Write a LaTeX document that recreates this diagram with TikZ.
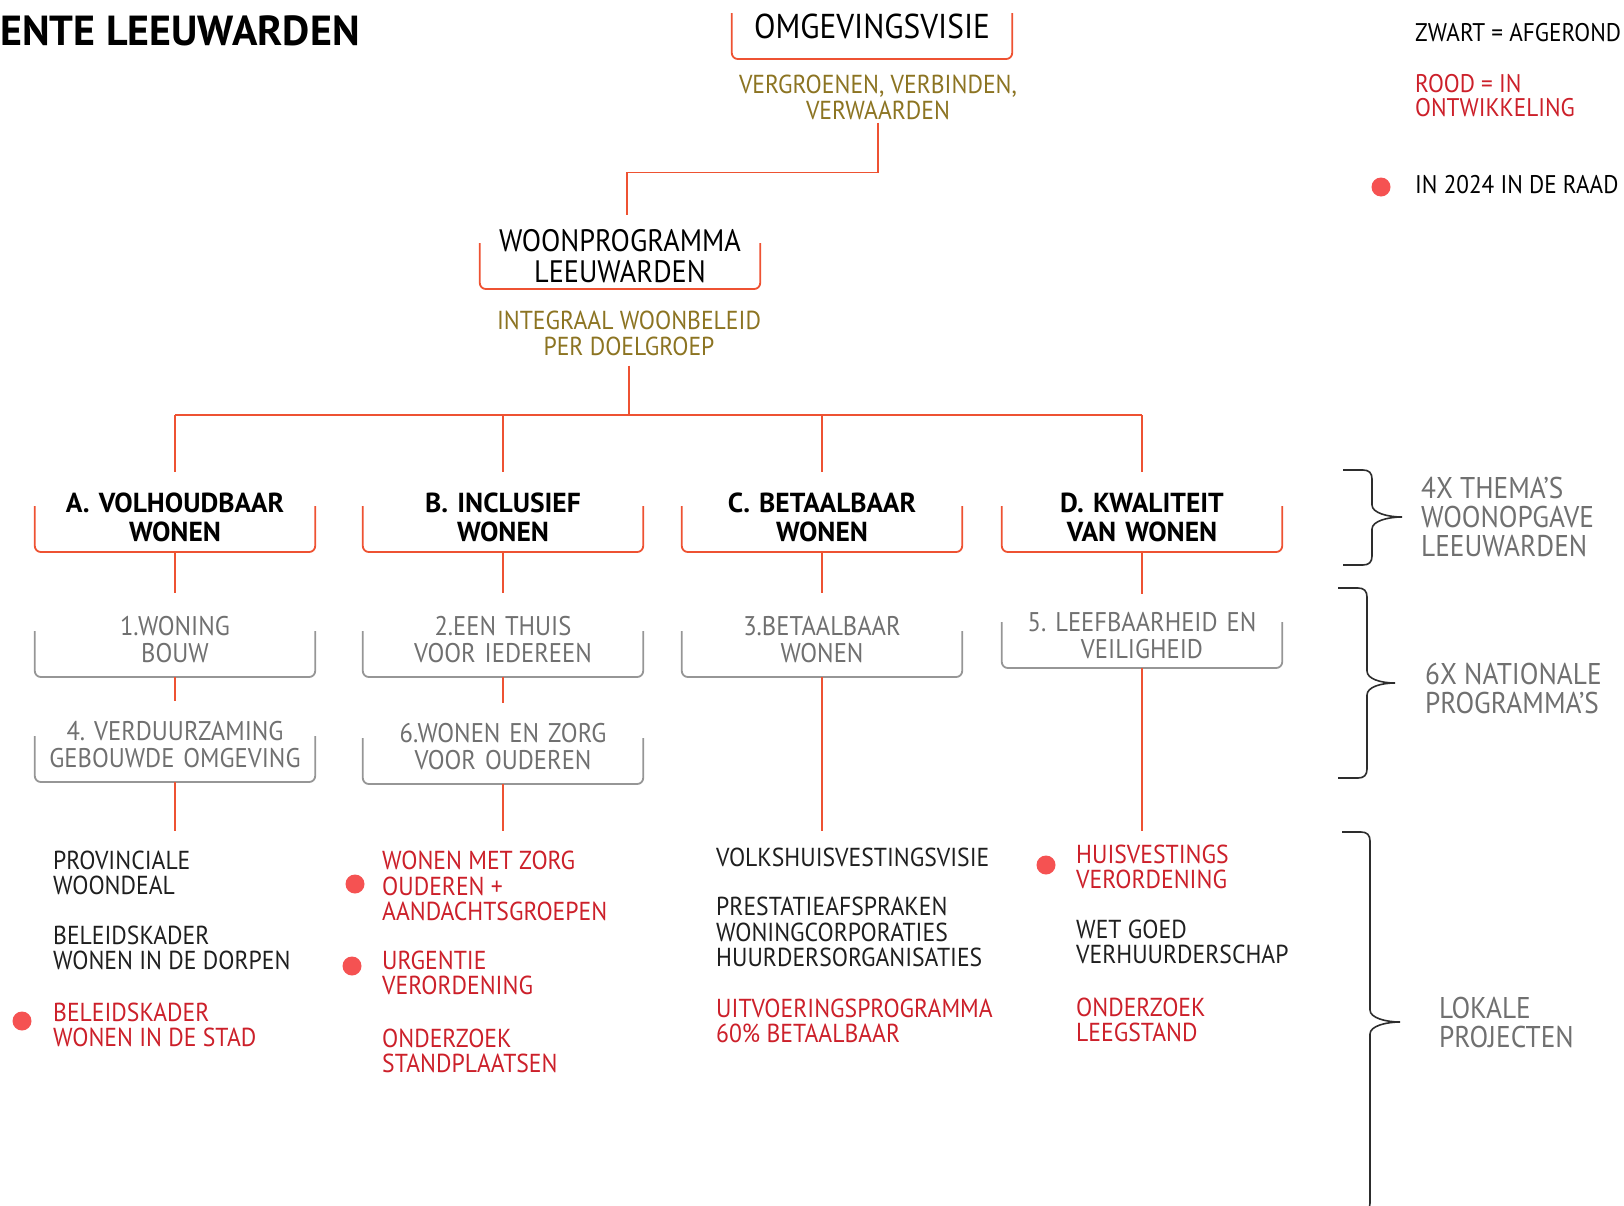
\documentclass[tikz,border=0pt]{standalone}
\usepackage{fontspec}
\setmainfont{PT Sans}[FakeStretch=0.91]
\newfontfamily\widefam{PT Sans}
\usepackage{tikz}
\usetikzlibrary{positioning}
\definecolor{mred}{RGB}{238,82,50}
\definecolor{tred}{RGB}{204,32,42}
\definecolor{molive}{RGB}{140,116,34}
\definecolor{mgrey}{RGB}{112,112,112}
\definecolor{lgrey}{RGB}{150,150,150}
\definecolor{mdot}{RGB}{245,82,82}
\definecolor{mdark}{RGB}{45,45,45}
\newcommand\titlefont{\widefam\fontsize{42}{42}\bfseries\selectfont}
\newcommand\headfont{\fontsize{31}{31}\selectfont}
\newcommand\subfont{\fontsize{26}{26}\selectfont}
\newcommand\themefont{\widefam\fontsize{27.5}{29}\bfseries\selectfont}
\newcommand\natfont{\fontsize{27}{26.5}\selectfont}
\newcommand\itemfont{\fontsize{26}{25.5}\selectfont}
\newcommand\legfont{\fontsize{25.5}{24}\selectfont}
\newcommand\sidefont{\fontsize{30}{29}\selectfont}
\tikzset{link/.style = {mred, line width=1.6pt}}
\tikzset{trunk/.style = {mred, line width=2.6pt}}
\tikzset{hook/.style = {line width=1.8pt, rounded corners=6pt}}
\tikzset{curly/.style = {mdark, line width=1.6pt}}
\tikzset{dot/.style = {fill=mdot, circle, inner sep=0pt, minimum size=19pt}}
\tikzset{headbox/.style = {anchor=south, text width=280pt, inner xsep=0pt, inner ysep=6pt,
                           align=center, font=\headfont}}
\tikzset{subtext/.style = {molive, align=center, inner sep=3pt, font=\subfont}}
\tikzset{themebox/.style = {anchor=south, text width=280pt, inner xsep=0pt, inner ysep=10pt,
                            align=center, font=\themefont}}
\tikzset{natbox/.style = {anchor=south, text width=280pt, inner xsep=0pt, inner ysep=14pt,
                          align=center, text=mgrey, font=\natfont}}
\tikzset{item/.style = {anchor=west, align=left, inner sep=0pt, text=black!88, font=\itemfont}}
\tikzset{todo/.style = {item, text=tred}}
\tikzset{legend/.style = {anchor=west, align=left, inner sep=0pt, font=\legfont}}
\tikzset{side/.style = {anchor=west, align=left, inner sep=0pt, text=mgrey, font=\sidefont}}
\newcommand\hookbox[2][mred]{\draw[hook, #1] ([yshift=46pt]#2.south west) -- (#2.south west)
  -- (#2.south east) -- ([yshift=46pt]#2.south east);}
\newcommand\curly[6]{\draw[curly] (#1,#4) -- (#2-9,#4) .. controls (#2-3,#4) and (#2,#4+3) .. (#2,#4+9)
  -- (#2,#5-12) .. controls (#2,#5-4) and (#3-14,#5) .. (#3,#5)
  .. controls (#3-14,#5) and (#2,#5+4) .. (#2,#5+12)
  -- (#2,#6-9) .. controls (#2,#6-3) and (#2-3,#6) .. (#2-9,#6) -- (#1,#6);}
\frenchspacing

\begin{document}
\begin{tikzpicture}[x=1pt, y=-1pt]
      \useasboundingbox (0,0) rectangle (1624,1205);

      \node [anchor=west, inner sep=0pt, font=\titlefont] (title) at (0,31) {ENTE LEEUWARDEN};

      \node [headbox, inner ysep=20pt, font=\fontsize{34.5}{34}\selectfont] (omg) at (872,59) {OMGEVINGSVISIE};
      \hookbox{omg}
      \node [subtext] (omgsub) at (878,97) {VERGROENEN, VERBINDEN,\\VERWAARDEN};

      \node [headbox] (woon) at (620,289) {WOONPROGRAMMA\\LEEUWARDEN};
      \hookbox{woon}
      \node [subtext] (woonsub) at (629,333) {INTEGRAAL WOONBELEID\\PER DOELGROEP};
      \draw [link] (omgsub.south) -- ++(0,50) -| ([xshift=7pt,yshift=8pt]woon.north);

      \node [themebox] (thA) at (175,552) {A. VOLHOUDBAAR\\WONEN};
      \node [themebox] (thB) at (503,552) {B. INCLUSIEF\\WONEN};
      \node [themebox] (thC) at (822,552) {C. BETAALBAAR\\WONEN};
      \node [themebox] (thD) at (1142,552) {D. KWALITEIT\\VAN WONEN};
      \foreach \t in {thA,thB,thC,thD} {\hookbox{\t}}

      \coordinate (bus) at (629,415);
      \draw [trunk] ([yshift=-7pt]woonsub.south) -- (woonsub.south |- bus);
      \draw [link] (bus -| thA.north) -- (bus -| thD.north);
      \foreach \t in {thA,thB,thC,thD} {\draw [link] (bus -| \t.north) -- ([yshift=11pt]\t.north);}

      \node [natbox] (np1) at (175,677) {1.WONING\\BOUW};
      \node [natbox] (np2) at (503,677) {2.EEN THUIS\\VOOR IEDEREEN};
      \node [natbox] (np3) at (822,677) {3.BETAALBAAR\\WONEN};
      \node [natbox, inner ysep=9pt] (np5) at (1142,668) {5. LEEFBAARHEID EN\\VEILIGHEID};
      \node [natbox] (np4) at (175,782) {4. VERDUURZAMING\\GEBOUWDE OMGEVING};
      \node [natbox] (np6) at (503,784) {6.WONEN EN ZORG\\VOOR OUDEREN};
      \foreach \n in {np1,np2,np3,np4,np5,np6} {\hookbox[lgrey]{\n}}

      \draw [link] (thA.south) -- ([yshift=10pt]np1.north);
      \draw [link] (thB.south) -- ([yshift=10pt]np2.north);
      \draw [link] (thC.south) -- ([yshift=10pt]np3.north);
      \draw [link] (thD.south) -- ([yshift=10pt]np5.north);
      \draw [link] (np1.south) -- ([yshift=7pt]np4.north);
      \draw [link] (np2.south) -- ([yshift=7pt]np6.north);

      \coordinate (endA) at (175,831);
      \coordinate (endB) at (503,831);
      \coordinate (endC) at (822,831);
      \coordinate (endD) at (1142,831);
      \draw [link] (np4.south) -- (endA);
      \draw [link] (np6.south) -- (endB);
      \draw [link] (np3.south) -- (endC);
      \draw [link] (np5.south) -- (endD);

      \node [item] (a1) at (53,873) {PROVINCIALE\\WOONDEAL};
      \node [item] (a2) at (53,948) {BELEIDSKADER\\WONEN IN DE DORPEN};
      \node [todo] (a3) at (53,1025) {BELEIDSKADER\\WONEN IN DE STAD};
      \node [dot] (da3) at (22,1021) {};

      \node [todo] (b1) at (382,886) {WONEN MET ZORG\\OUDEREN +\\AANDACHTSGROEPEN};
      \node [dot] (db1) at (355,884) {};
      \node [todo] (b2) at (382,973) {URGENTIE\\VERORDENING};
      \node [dot] (db2) at (352,966) {};
      \node [todo] (b3) at (382,1051) {ONDERZOEK\\STANDPLAATSEN};

      \node [item] (c1) at (716,857) {VOLKSHUISVESTINGSVISIE};
      \node [item] (c2) at (716,932) {PRESTATIEAFSPRAKEN\\WONINGCORPORATIES\\HUURDERSORGANISATIES};
      \node [todo] (c3) at (716,1021) {UITVOERINGSPROGRAMMA\\60\% BETAALBAAR};

      \node [todo] (d1) at (1076,867) {HUISVESTINGS\\VERORDENING};
      \node [dot] (dd1) at (1046,865) {};
      \node [item] (d2) at (1076,942) {WET GOED\\VERHUURDERSCHAP};
      \node [todo] (d3) at (1076,1020) {ONDERZOEK\\LEEGSTAND};

      \node [legend] (leg1) at (1415,33) {ZWART = AFGEROND};
      \node [legend, text=tred] (leg2) at (1415,96) {ROOD = IN\\ONTWIKKELING};
      \node [dot] (legdot) at (1381,187) {};
      \node [legend] (leg3) at (1415,185) {IN 2024 IN DE RAAD};

      \curly{1343}{1372}{1402}{470}{517}{565}
      \curly{1338}{1367}{1395}{588}{683}{778}
      \curly{1342}{1370}{1400}{832}{1022}{1212}
      \node [side] (s1) at (1421,517) {4X THEMA’S\\WOONOPGAVE\\LEEUWARDEN};
      \node [side] (s2) at (1425,688) {6X NATIONALE\\PROGRAMMA’S};
      \node [side] (s3) at (1439,1022) {LOKALE\\PROJECTEN};
    \end{tikzpicture}
\end{document}
